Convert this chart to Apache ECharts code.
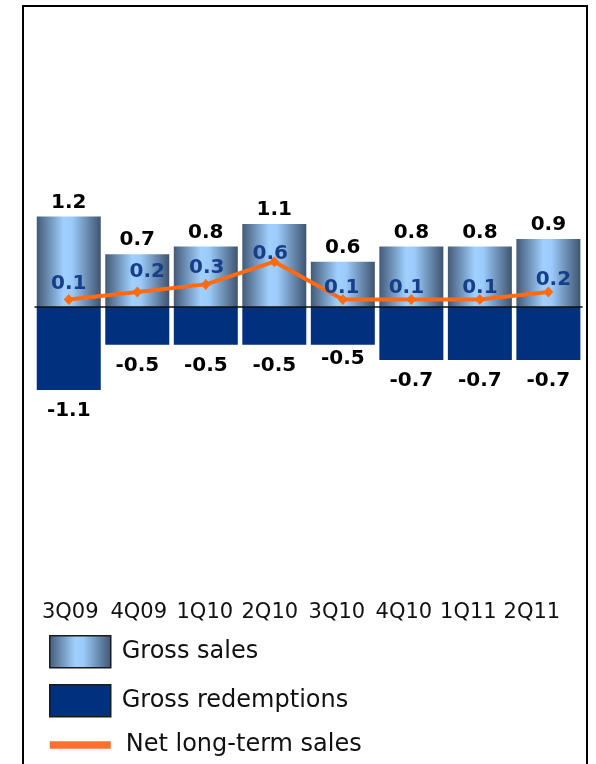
<!DOCTYPE html>
<html>
<head>
<meta charset="utf-8">
<script src="https://cdn.jsdelivr.net/npm/echarts@6/dist/echarts.min.js"></script>
<style>
html,body{margin:0;padding:0;background:#fff;}
#chart{width:596px;height:764px;}
</style>
</head>
<body>
<div id="chart"></div>
<script>
// ---- data ----
const categories = ['3Q09', '4Q09', '1Q10', '2Q10', '3Q10', '4Q10', '1Q11', '2Q11'];
const grossSales = [1.2, 0.7, 0.8, 1.1, 0.6, 0.8, 0.8, 0.9];
const grossRedemptions = [-1.1, -0.5, -0.5, -0.5, -0.5, -0.7, -0.7, -0.7];
const netLongTermSales = [0.1, 0.2, 0.3, 0.6, 0.1, 0.1, 0.1, 0.2];
const seriesNames = ['Gross sales', 'Gross redemptions', 'Net long-term sales'];

// ---- style tweaks (label nudges, px) ----
const xLabelShift = [2, 2, -1, -6, -8, -10, -15, -22];
const netLabelNudge = [[0, 3.5], [10, -0.5], [1, 2.5], [-4, 11.5], [-1, 7.5], [-5, 7.5], [0, 7.5], [5, 7.5]];
const redLabelNudge = [0, 0, 0, 0, -7, 0, 0, 0];

const FONT = 'DejaVu Sans, Verdana, sans-serif';
const grossGradient = new echarts.graphic.LinearGradient(0, 0, 1, 0, [
  { offset: 0, color: '#435a78' },
  { offset: 0.42, color: '#a0d0ff' },
  { offset: 0.55, color: '#9ccbfb' },
  { offset: 1, color: '#3f5470' }
]);

const rich = {};
xLabelShift.forEach((s, i) => {
  const p = Math.round(1.5 * Math.abs(s));
  rich['l' + i] = {
    fontSize: 21, fontFamily: FONT, color: '#111', lineHeight: 21,
    padding: s >= 0 ? [0, 0, 0, p] : [0, p, 0, 0]
  };
});

const chart = echarts.init(document.getElementById('chart'), null, { renderer: 'canvas' });
chart.setOption({
  animation: false,
  backgroundColor: '#fff',
  grid: { left: 34.5, right: 10.5, top: 156, bottom: 170 },
  xAxis: {
    type: 'category',
    data: categories,
    axisLine: { show: false },
    axisTick: { show: false },
    axisLabel: {
      margin: 8,
      interval: 0,
      formatter: (v, i) => '{l' + i + '|' + v + '}',
      rich: rich
    }
  },
  yAxis: {
    type: 'value', min: -3.8, max: 2,
    show: false, splitLine: { show: false }
  },
  legend: {
    orient: 'vertical',
    left: 49, top: 635, padding: 0,
    itemWidth: 61, itemHeight: 32, itemGap: 15.5,
    textStyle: { fontSize: 24, fontFamily: FONT, color: '#111', padding: [6, 0, 0, 6] },
    data: [
      { name: seriesNames[0], icon: 'rect', itemStyle: { borderColor: '#1a1a1a', borderWidth: 1.5 } },
      { name: seriesNames[1], icon: 'rect', itemStyle: { borderColor: '#1a1a1a', borderWidth: 1.5 } },
      { name: seriesNames[2], icon: 'path://M0,0 L58,0 L58,7 L0,7 Z', itemStyle: { color: '#ff6f2e', borderWidth: 0 }, textStyle: { padding: [0, 0, 0, 10] } }
    ]
  },
  graphic: [{
    type: 'rect',
    shape: { x: 23, y: 6, width: 564, height: 800 },
    style: { fill: 'none', stroke: '#000', lineWidth: 2 },
    silent: true, z: 100
  }],
  series: [
    {
      name: seriesNames[0],
      type: 'bar',
      data: grossSales,
      barWidth: 64,
      barGap: '-100%',
      itemStyle: { color: grossGradient },
      label: {
        show: true, position: 'top', distance: 4,
        fontSize: 20, fontWeight: 'bold', fontFamily: FONT, color: '#000',
        formatter: p => p.value.toFixed(1)
      },
      markLine: {
        silent: true, symbol: 'none',
        label: { show: false },
        lineStyle: { color: '#111', width: 1.5, type: 'solid' },
        data: [{ yAxis: 0 }],
        z: 5
      },
      z: 2
    },
    {
      name: seriesNames[1],
      type: 'bar',
      data: grossRedemptions.map((v, i) => ({
        value: v,
        label: { offset: [0, redLabelNudge[i]] }
      })),
      barWidth: 64,
      barGap: '-100%',
      itemStyle: { color: '#00307e' },
      label: {
        show: true, position: 'bottom', distance: 11,
        fontSize: 20, fontWeight: 'bold', fontFamily: FONT, color: '#000',
        formatter: p => p.value.toFixed(1)
      },
      z: 2
    },
    {
      name: seriesNames[2],
      type: 'line',
      data: netLongTermSales.map((v, i) => ({
        value: v,
        label: { offset: netLabelNudge[i] }
      })),
      symbol: 'diamond',
      symbolSize: [10, 11],
      itemStyle: { color: '#ff6a13' },
      lineStyle: { color: '#ff6a13', width: 4 },
      label: {
        show: true, position: 'top', distance: 4,
        fontSize: 20, fontWeight: 'bold', fontFamily: FONT, color: '#163f8a',
        formatter: p => p.value.toFixed(1)
      },
      z: 10
    }
  ]
});
</script>
</body>
</html>
